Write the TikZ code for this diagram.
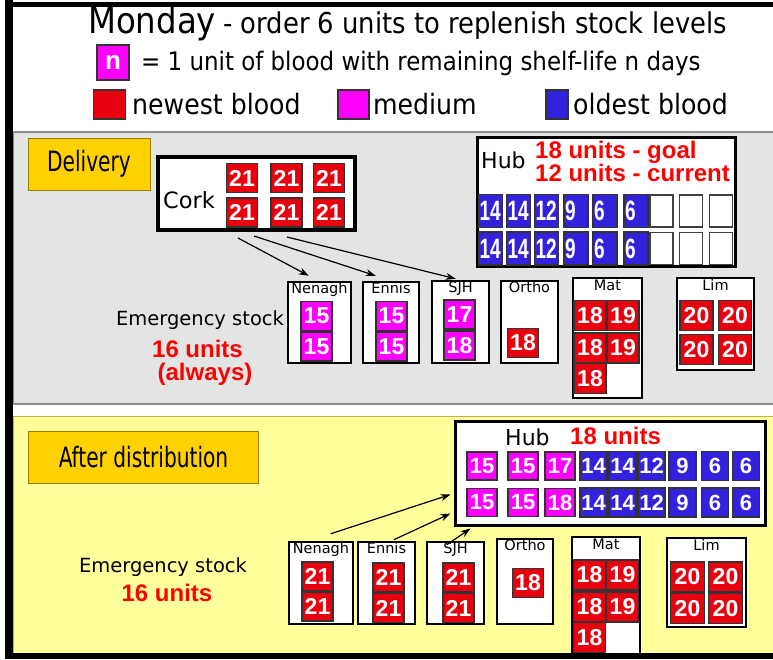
\documentclass[tikz,border=0pt]{standalone}
\usepackage{fontspec}
\setmainfont{DejaVu Sans}
\newfontfamily\condfont{DejaVu Sans Condensed}
\newfontfamily\numfont{Liberation Sans}
\usetikzlibrary{arrows.meta,positioning}
\definecolor{bloodred}{HTML}{E8000F}
\definecolor{bloodmag}{HTML}{FF00FF}
\definecolor{bloodblue}{HTML}{3322DD}
\definecolor{panelgrey}{HTML}{E3E4E4}
\definecolor{panelyellow}{HTML}{FFFF9C}
\definecolor{tagorange}{HTML}{FFD100}
\definecolor{textred}{HTML}{FF0000}
\newcommand\narrowtxt[1]{\scalebox{0.8}[1]{#1}}
\newcommand\narrownum[1]{\scalebox{0.68}[1]{#1}}
\tikzset{
  cell/.style       = {draw=black!80, line width=1.2pt, fill=#1, text=white, inner sep=0pt,
                       minimum width=31, minimum height=29,
                       font=\numfont\bfseries\fontsize{23}{23}\selectfont},
  hubcell/.style    = {cell=#1, minimum width=24, minimum height=33, text width=22, align=left,
                       font=\numfont\bfseries\fontsize{28}{28}\selectfont},
  emptycell/.style  = {draw=black!75, line width=1.2pt, fill=white, minimum width=23,
                       minimum height=32, inner sep=0pt},
  store/.style      = {draw=black, line width=2.5pt, fill=white, inner sep=0pt},
  storename/.style  = {font=\fontsize{14.5}{15}\selectfont, inner sep=0pt, anchor=north},
  tag/.style        = {draw=tagorange!60!black, line width=0.6pt, fill=tagorange, inner sep=0pt,
                       font=\condfont\fontsize{28}{28}\selectfont},
  redtxt/.style     = {text=textred, font=\numfont\bfseries\fontsize{24}{26}\selectfont, inner sep=0pt},
  plain/.style      = {inner sep=0pt, font=\fontsize{19.5}{20}\selectfont},
  head/.style       = {inner sep=0pt, anchor=base west},
  flow/.style       = {-{Stealth[length=10pt,width=7pt]}, line width=1.2pt},
}
\begin{document}
\begin{tikzpicture}[x=1pt,y=-1pt]
  \useasboundingbox (0,0) rectangle (773,659);
  \fill[white] (0,0) rectangle (773,659);
  % panels
  \filldraw[fill=panelgrey, draw=black!45, line width=1.5pt] (13,132) rectangle (776,404);
  \filldraw[fill=panelyellow, draw=olive!60, line width=0.8pt] (13,416) rectangle (776,656);
  % header
  \node[head, font=\condfont\fontsize{36}{36}\selectfont] (title) at (88,33) {Monday};
  \node[head, font=\condfont\fontsize{28.7}{28.7}\selectfont] (subtitle) at ([xshift=7]title.base east)
    {- order 6 units to replenish stock levels};
  \node[cell=bloodmag, minimum width=32, minimum height=35, font=\numfont\bfseries\fontsize{26}{26}\selectfont]
    (keyn) at (113,62.5) {n};
  \node[head, font=\condfont\fontsize{25.5}{25.5}\selectfont] (keytext) at (141,70)
    {= 1 unit of blood with remaining shelf-life n days};
  \node[cell=bloodred, minimum width=32] (keynew) at (109.5,104.5) {};
  \node[head, font=\condfont\fontsize{28}{28}\selectfont] (keynewtxt) at (132,114) {newest blood};
  \node[cell=bloodmag, minimum width=31] (keymed) at (353.5,104.5) {};
  \node[head, font=\condfont\fontsize{28}{28}\selectfont] (keymedtxt) at (373,114) {medium};
  \node[cell=bloodblue, minimum width=22] (keyold) at (557,104.5) {};
  \node[head, font=\condfont\fontsize{28}{28}\selectfont] (keyoldtxt) at (573,114) {oldest blood};

  % ---------- delivery ----------
  \node[tag, minimum width=122, minimum height=52] (delivery) at (89,164) {\narrowtxt{Delivery}};
  \node[store, line width=4pt, minimum width=197, minimum height=73] (cork) at (256.5,193.5) {};
  \node[font=\fontsize{22.5}{23}\selectfont, inner sep=0pt] (corkname) at (189,200) {Cork};
  \foreach \cx/\nm in {242/a,286.5/b,329/c}
    \foreach \cy/\r in {178/1,212.5/2}
      \node[cell=bloodred] (cork\nm\r) at (\cx,\cy) {21};
  % hub before distribution
  \node[store, line width=3pt, minimum width=258, minimum height=129] (hubA) at (606,201.5) {};
  \node[inner sep=0pt, anchor=west, font=\fontsize{22}{22}\selectfont] (hubAname) at (481,160) {Hub};
  \node[redtxt, anchor=base west] (hubAgoal) at (535,158) {18 units - goal};
  \node[redtxt, anchor=base west] (hubAcur) at (535,181) {12 units - current};
  \foreach \cx/\v [count=\i] in {490.5/14,518.5/14,546.5/12,576/9,605/6,636/6} {
    \node[hubcell=bloodblue] (hubAt\i) at (\cx,211) {\narrownum{\v}};
    \node[hubcell=bloodblue] (hubAb\i) at (\cx,248.5) {\narrownum{\v}};
  }
  \foreach \cx [count=\i] in {661.5,691,721} {
    \node[emptycell] (hubAet\i) at (\cx,211) {};
    \node[emptycell] (hubAeb\i) at (\cx,248.5) {};
  }
  % hospitals before distribution
  \node[store, minimum width=63, minimum height=81] (nenaghA) at (319.5,322.5) {};
  \node[storename] at ([yshift=-2pt]nenaghA.north) {Nenagh};
  \node[store, minimum width=56, minimum height=81] (ennisA) at (391,322.5) {};
  \node[storename] at ([yshift=-2pt]ennisA.north) {Ennis};
  \node[store, minimum width=57, minimum height=82] (sjhA) at (460.5,322) {};
  \node[storename] at ([yshift=-2pt]sjhA.north) {SJH};
  \node[store, minimum width=57, minimum height=82] (orthoA) at (529.5,322) {};
  \node[storename] at ([yshift=-2pt]orthoA.north) {Ortho};
  \node[store, minimum width=69, minimum height=120] (matA) at (607.5,338) {};
  \node[storename] at ([yshift=-3pt]matA.north) {Mat};
  \node[store, minimum width=77, minimum height=92] (limA) at (715.5,324) {};
  \node[storename] at ([yshift=-3pt]limA.north) {Lim};
  \foreach \cy [count=\i] in {316,346.5} {
    \node[cell=bloodmag] (nenaghA\i) at (316.5,\cy) {15};
    \node[cell=bloodmag] (ennisA\i) at (391.5,\cy) {15};
  }
  \node[cell=bloodmag] (sjhA1) at (459.5,314.5) {17};
  \node[cell=bloodmag] (sjhA2) at (459.5,345.5) {18};
  \node[cell=bloodred] (orthoA1) at (523,343) {18};
  \foreach \cx/\cy/\v [count=\i] in {590/315.5/18,623/315.5/19,590/348/18,623/348/19,590/378.5/18}
    \node[cell=bloodred, minimum width=32, minimum height=30] (matA\i) at (\cx,\cy) {\v};
  \foreach \cx/\cy [count=\i] in {696.5/315.5,735/315.5,696.5/349.5,735/349.5}
    \node[cell=bloodred, minimum width=33, minimum height=30] (limA\i) at (\cx,\cy) {20};
  \node[plain] (emergA) at (200,320) {Emergency stock};
  \node[redtxt] (emergAunits) at (197.5,349) {16 units};
  \node[redtxt] (emergAalways) at (205,374) {(always)};
  % deliveries from Cork
  \draw[flow] ([shift={(82,6)}]cork.south west) -- ([shift={(22,-5)}]nenaghA.north west);
  \draw[flow] ([shift={(98,4)}]cork.south west) -- ([shift={(14,-5)}]ennisA.north west);
  \draw[flow] ([shift={(131,5)}]cork.south west) -- ([shift={(25,-1)}]sjhA.north west);

  % ---------- after distribution ----------
  \node[tag, minimum width=230, minimum height=52] (afterdist) at (143.5,457) {\narrowtxt{After distribution}};
  \node[store, line width=3pt, minimum width=310, minimum height=104] (hubB) at (610,473) {};
  \node[inner sep=0pt, anchor=west, font=\fontsize{22}{22}\selectfont] (hubBname) at (505,437) {Hub};
  \node[redtxt, anchor=base west] (hubBunits) at (570,444) {18 units};
  \foreach \cx/\vt/\vb [count=\i] in {482/15/15,523/15/15,560/17/18} {
    \node[cell=bloodmag, minimum width=30, minimum height=28, font=\numfont\bfseries\fontsize{22}{22}\selectfont]
      (hubBt\i) at (\cx,466) {\vt};
    \node[cell=bloodmag, minimum width=30, minimum height=28, font=\numfont\bfseries\fontsize{22}{22}\selectfont]
      (hubBb\i) at (\cx,502.5) {\vb};
  }
  \foreach \cx/\v [count=\i] in {593.5/14,622.5/14,651.5/12,682.5/9,715/6,746/6} {
    \node[cell=bloodblue, minimum width=27, minimum height=29, font=\numfont\bfseries\fontsize{22}{22}\selectfont]
      (hubBbt\i) at (\cx,466) {\v};
    \node[cell=bloodblue, minimum width=27, minimum height=29, font=\numfont\bfseries\fontsize{22}{22}\selectfont]
      (hubBbb\i) at (\cx,502.5) {\v};
  }
  % hospitals after distribution
  \node[store, minimum width=64, minimum height=82] (nenaghB) at (321,583) {};
  \node[storename] at ([yshift=-2pt]nenaghB.north) {Nenagh};
  \node[store, minimum width=57, minimum height=82] (ennisB) at (386.5,583) {};
  \node[storename] at ([yshift=-2pt]ennisB.north) {Ennis};
  \node[store, minimum width=57, minimum height=82] (sjhB) at (455.5,583) {};
  \node[storename] at ([yshift=-2pt]sjhB.north) {SJH};
  \node[store, minimum width=56, minimum height=85] (orthoB) at (525,581.5) {};
  \node[storename] at ([yshift=-2pt]orthoB.north) {Ortho};
  \node[store, minimum width=68, minimum height=120] (matB) at (606,597) {};
  \node[storename] at ([yshift=-3pt]matB.north) {Mat};
  \node[store, minimum width=79, minimum height=89] (limB) at (706.5,582.5) {};
  \node[storename] at ([yshift=-3pt]limB.north) {Lim};
  \foreach \cy [count=\i] in {576.5,606.5}
    \node[cell=bloodred] (nenaghB\i) at (317.5,\cy) {21};
  \foreach \cy [count=\i] in {577.5,608} {
    \node[cell=bloodred] (ennisB\i) at (388.5,\cy) {21};
    \node[cell=bloodred] (sjhB\i) at (458.5,\cy) {21};
  }
  \node[cell=bloodred] (orthoB1) at (528,583) {18};
  \foreach \cx/\cy/\v [count=\i] in {589.5/575/18,622.5/575/19,589.5/607/18,622.5/607/19,589.5/637.5/18}
    \node[cell=bloodred, minimum width=32, minimum height=30] (matB\i) at (\cx,\cy) {\v};
  \foreach \cx/\cy [count=\i] in {687.5/577,725.5/577,687.5/608.5,725.5/608.5}
    \node[cell=bloodred, minimum width=34, minimum height=30] (limB\i) at (\cx,\cy) {20};
  \node[plain] (emergB) at (163,567) {Emergency stock};
  \node[redtxt] (emergBunits) at (167,593) {16 units};
  % returns to the hub
  \draw[flow] ([shift={(43,-7)}]nenaghB.north west) -- ([shift={(-3,-32)}]hubB.south west);
  \draw[flow] ([shift={(37,-1)}]ennisB.north west) -- ([shift={(-3,-13)}]hubB.south west);
  \draw[flow] ([shift={(21,4)}]sjhB.north west) -- ([shift={(17,2)}]hubB.south west);

  % frame
  \fill[black] (5,2) rectangle (773,7);
  \fill[black] (5,0) rectangle (13,659);
  \fill[black] (5,653) rectangle (773,659);
\end{tikzpicture}
\end{document}
